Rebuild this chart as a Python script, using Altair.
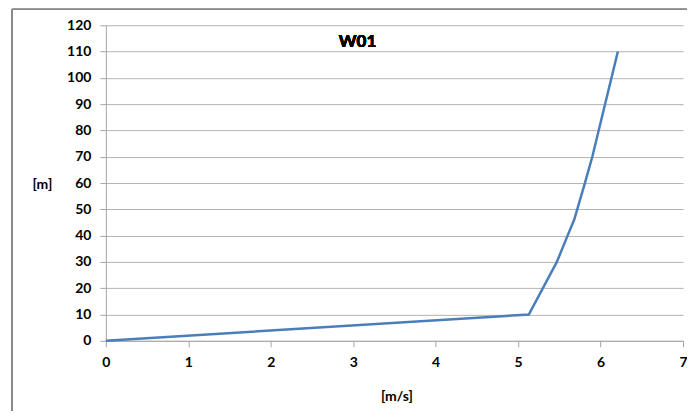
import altair as alt
import pandas as pd

# Wind profile W01
speed = [0.0, 5.13, 5.47, 5.60, 5.68, 5.81, 5.90, 6.21]   # [m/s]
height = [0, 10, 30, 40, 46, 60, 70, 110]                  # [m]
x_ticks = [0, 1, 2, 3, 4, 5, 6, 7]
y_ticks = [0, 10, 20, 30, 40, 50, 60, 70, 80, 90, 100, 110, 120]

df = pd.DataFrame({"speed": speed, "height": height, "order": list(range(len(speed)))})

FONT = "Lato"
W, H = 578, 316

base = alt.Chart(df)

line = base.mark_line(color="#4a7ebb", strokeWidth=2.5).encode(
    x=alt.X("speed:Q", scale=alt.Scale(domain=[0, 7], nice=False),
            axis=alt.Axis(values=x_ticks, format="d", title="[m/s]", grid=False,
                          labelFlush=False,
                          domainColor="#a6a6a6", tickColor="#a6a6a6", tickSize=6,
                          labelPadding=9, titleX=291, titleY=56, titleBaseline="middle",
                          titleAlign="center")),
    y=alt.Y("height:Q", scale=alt.Scale(domain=[0, 120], nice=False),
            axis=alt.Axis(values=y_ticks, format="d", title="[m]", grid=True,
                          labelFlush=False,
                          gridColor="#b3b3b3", gridWidth=1,
                          domainColor="#a6a6a6", tickColor="#a6a6a6", tickSize=6,
                          labelPadding=9, titleAngle=0, titleX=-64, titleY=159,
                          titleAlign="center", titleBaseline="middle")),
    order="order:Q",
)

title = base.mark_text(font=FONT, fontSize=17, fontWeight="bold", color="black",
                       align="center", baseline="middle").encode(
    x=alt.value(252), y=alt.value(17), text=alt.value("W01")
)

border = base.mark_rect(fill=None, stroke="#8c8c8c", strokeWidth=1).encode(
    x=alt.value(-94), x2=alt.value(700), y=alt.value(-16), y2=alt.value(500)
)

chart = alt.layer(border, line, title).properties(
    width=W, height=H,
    background="white",
    autosize=alt.AutoSizeParams(type="none"),
    padding={"left": 98, "top": 17, "right": 4, "bottom": 70},
).configure_view(stroke=None).configure_axis(
    labelFont=FONT, labelFontSize=14, labelFontWeight="bold", labelColor="black",
    titleFont=FONT, titleFontSize=14, titleFontWeight="bold", titleColor="black",
)

chart.save("out.html", embed_options={"renderer": "svg", "actions": False})
